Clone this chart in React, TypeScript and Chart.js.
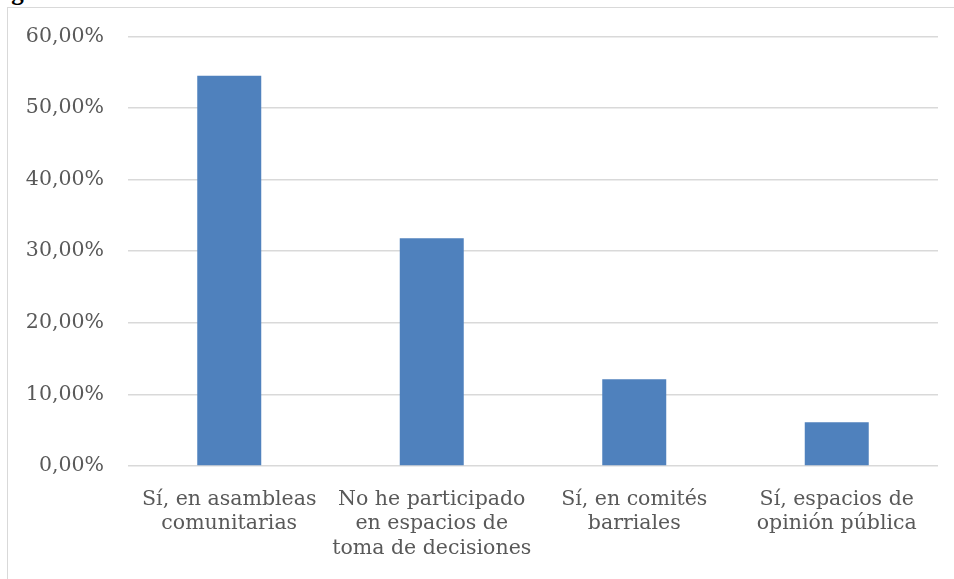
import React, { useEffect, useRef } from "react";
import { Chart, registerables } from "chart.js";

Chart.register(...registerables);

const categories: string[][] = [
  ["Sí, en asambleas", "comunitarias"],
  ["No he participado", "en espacios de", "toma de decisiones"],
  ["Sí, en comités", "barriales"],
  ["Sí, espacios de", "opinión pública"],
];
const values: number[] = [54.5, 31.8, 12.1, 6.1];
const yMin = 0;
const yMax = 60;
const yStep = 10;

const FONT = "'DejaVu Serif', serif";

export default function App() {
  const ref = useRef<HTMLCanvasElement | null>(null);
  useEffect(() => {
    if (!ref.current) return;
    const chart = new Chart(ref.current, {
      type: "bar",
      data: {
        labels: categories,
        datasets: [
          {
            data: values,
            backgroundColor: "#4f81bd",
            borderWidth: 0,
            barPercentage: 0.316,
            categoryPercentage: 1,
          },
        ],
      },
      options: {
        animation: false,
        responsive: false,
        maintainAspectRatio: false,
        layout: { padding: { top: 36, right: 16, left: 0, bottom: 0 } },
        plugins: { legend: { display: false }, tooltip: { enabled: false } },
        scales: {
          x: {
            grid: { display: false },
            border: { display: false },
            ticks: {
              color: "#595959",
              font: { family: FONT, size: 20.5, lineHeight: 1.2 },
              padding: 13,
              maxRotation: 0,
              autoSkip: false,
            },
            afterFit: (s: any) => {
              s.height = 113;
            },
          },
          y: {
            min: yMin,
            max: yMax,
            border: { display: false },
            grid: { color: "#d9d9d9", lineWidth: 1.5, drawTicks: false },
            ticks: {
              stepSize: yStep,
              color: "#595959",
              font: { family: FONT, size: 20.5 },
              padding: 24,
              callback: (v: any) => Number(v).toFixed(2).replace(".", ",") + "%",
            },
            afterFit: (s: any) => {
              s.width = 128;
            },
          },
        },
      },
    });
    return () => chart.destroy();
  }, []);
  return (
    <div style={{ position: "fixed", left: 0, top: 0, width: 954, height: 579, background: "#fff", overflow: "hidden" }}>
      <div
        style={{
          position: "absolute",
          left: -11,
          top: -20,
          fontFamily: "'Liberation Serif', serif",
          fontWeight: "bold",
          fontSize: 25,
          lineHeight: "24px",
          color: "#000",
          whiteSpace: "nowrap",
        }}
      >
        Figura
      </div>
      <div
        style={{
          position: "absolute",
          left: 7,
          top: 7,
          width: 960,
          height: 600,
          borderLeft: "1.5px solid #d9d9d9",
          borderTop: "1.5px solid #d9d9d9",
          boxSizing: "border-box",
        }}
      />
      <canvas ref={ref} width={954} height={579} style={{ position: "absolute", left: 0, top: 0 }} />
    </div>
  );
}
